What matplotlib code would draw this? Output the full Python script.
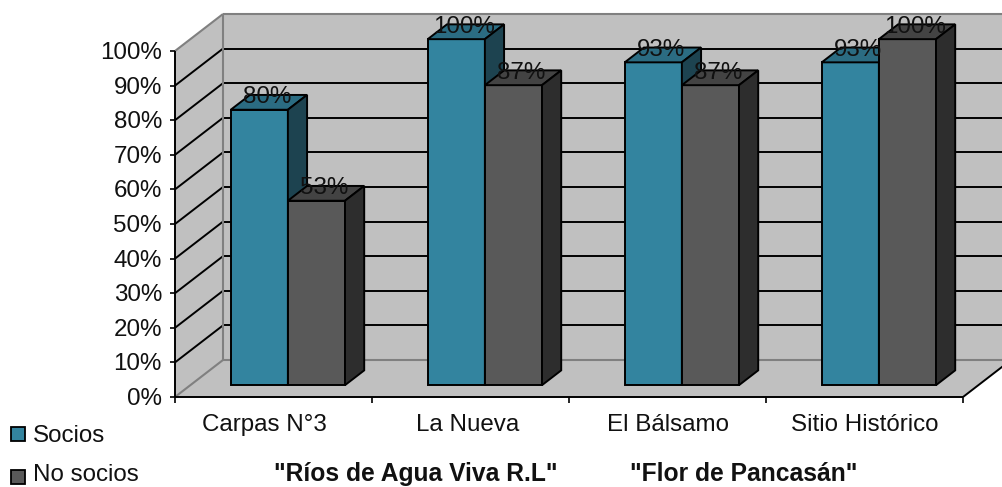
import matplotlib
matplotlib.use("Agg")
import matplotlib.pyplot as plt
from matplotlib.patches import Polygon, Rectangle

plt.rcParams['font.family'] = ['Liberation Sans', 'DejaVu Sans']

# -----------------------
# Datos
# -----------------------
categorias = ["Carpas N°3", "La Nueva", "El Bálsamo", "Sitio Histórico"]
socios = [79.6, 100, 93.3, 93.3]
no_socios = [53.3, 86.7, 86.7, 100]
ticks_y = [0, 10, 20, 30, 40, 50, 60, 70, 80, 90, 100]
series = ["Socios", "No socios"]
grupos = ['"Ríos de Agua Viva R.L"', '"Flor de Pancasán"']

# colores: frente, arriba, lado
teal = ("#33849F", "#2B6C82", "#1D4350")
gris = ("#595959", "#434343", "#2D2D2D")
pared = "#C0C0C0"
borde = "#808080"

# -----------------------
# Proyección oblicua a píxeles
# -----------------------
X0, Y0 = 175, 397      # origen frontal
ANCHO_CAT = 197        # píxeles por categoría
ESC_Y = 3.46           # píxeles por punto porcentual
DX, DY = 48, 37        # desplazamiento de la profundidad
FS = 17.4


def p(x, v, d=0.0):
    return (X0 + x * ANCHO_CAT + d * DX, Y0 - v * ESC_Y - d * DY)


fig = plt.figure(figsize=(10.03, 4.87), dpi=100)
ax = fig.add_axes([0, 0, 1, 1])
ax.set_xlim(0, 1003)
ax.set_ylim(487, 0)
ax.axis("off")

n = len(categorias)
vmax = ticks_y[-1]

# paredes y piso
ax.add_patch(Polygon([p(0, 0, 1), p(n, 0, 1), p(n, vmax, 1), p(0, vmax, 1)], fc=pared, ec="none", zorder=1))
ax.add_patch(Polygon([p(0, 0, 0), p(0, 0, 1), p(0, vmax, 1), p(0, vmax, 0)], fc=pared, ec="none", zorder=1))
ax.add_patch(Polygon([p(0, 0, 0), p(n, 0, 0), p(n, 0, 1), p(0, 0, 1)], fc=pared, ec="none", zorder=1))


def linea(a, b, color="black", lw=1.4, z=2):
    ax.plot([a[0], b[0]], [a[1], b[1]], color=color, lw=lw, zorder=z, solid_capstyle="butt")


# grilla
for t in ticks_y[1:-1]:
    linea(p(0, t, 0), p(0, t, 1))
    linea(p(0, t, 1), p(n, t, 1))

# bordes grises
linea(p(0, 0, 1), p(0, vmax, 1), borde, 1.5)
linea(p(0, vmax, 1), p(n, vmax, 1), borde, 1.5)
linea(p(0, vmax, 0), p(0, vmax, 1), borde, 1.5)
linea(p(0, 0, 0), p(0, 0, 1), borde, 1.5)
linea(p(0, 0, 1), p(n, 0, 1), borde, 1.5)

# ejes
linea(p(0, 0), p(0, vmax), lw=1.4, z=3)
linea(p(0, 0), p(n, 0), lw=1.4, z=3)
linea(p(n, 0), p(n, 0, 1), lw=1.4, z=3)
for t in ticks_y:
    x, y = p(0, t)
    linea((x - 5, y), (x, y), lw=1.2, z=3)
    ax.text(x - 13, y + 2, f"{t}%", ha="right", va="center", fontsize=FS, color="#111111")
for i in range(n + 1):
    x, y = p(i, 0)
    linea((x, y), (x, y + 6), lw=1.2, z=3)
# el original no centra del todo las etiquetas
ajuste_cat = [-9, -3, 1, 0]
for i, c in enumerate(categorias):
    x, y = p(i + 0.5, 0)
    ax.text(x + ajuste_cat[i], y + 28, c, ha="center", va="center", fontsize=FS, color="#111111")

# -----------------------
# Barras 3D
# -----------------------
MARGEN = 0.205
ANCHO = 0.29
D0, D1 = 0.32, 0.72


def barra(x0, x1, v, col, edge="black"):
    ax.add_patch(Polygon([p(x0, 0, D0), p(x1, 0, D0), p(x1, v, D0), p(x0, v, D0)], fc=col[0], ec=edge, lw=1.4, zorder=5))
    ax.add_patch(Polygon([p(x0, v, D0), p(x1, v, D0), p(x1, v, D1), p(x0, v, D1)], fc=col[1], ec=edge, lw=1.4, zorder=5))
    ax.add_patch(Polygon([p(x1, 0, D0), p(x1, 0, D1), p(x1, v, D1), p(x1, v, D0)], fc=col[2], ec=edge, lw=1.4, zorder=5))


for i in range(n):
    x0 = i + MARGEN
    barra(x0, x0 + ANCHO, socios[i], teal)
    barra(x0 + ANCHO, x0 + 2 * ANCHO, no_socios[i], gris)
    for j, v in enumerate((socios[i], no_socios[i])):
        cx, cy = p(x0 + (j + 0.5) * ANCHO, v, (D0 + D1) / 2)
        ax.text(cx - 2, cy - 5, f"{v:.0f}%", ha="center", va="center", fontsize=FS, color="#111111", zorder=10)

# -----------------------
# Leyenda y grupos
# -----------------------
for nombre, col, y, base in zip(series, (teal, gris), (434, 477), (442, 481)):
    ax.add_patch(Rectangle((11, y - 7), 14, 14, fc=col[0], ec="black", lw=1.3, zorder=5))
    ax.text(33, base, nombre, ha="left", va="baseline", fontsize=FS, color="#111111")

ax.text(415.5, 481, grupos[0], ha="center", va="baseline", fontsize=17.7, fontweight="bold", color="#111111")
ax.text(743.5, 481, grupos[1], ha="center", va="baseline", fontsize=17.7, fontweight="bold", color="#111111")

fig.savefig("out.png", dpi=100)
plt.close(fig)
